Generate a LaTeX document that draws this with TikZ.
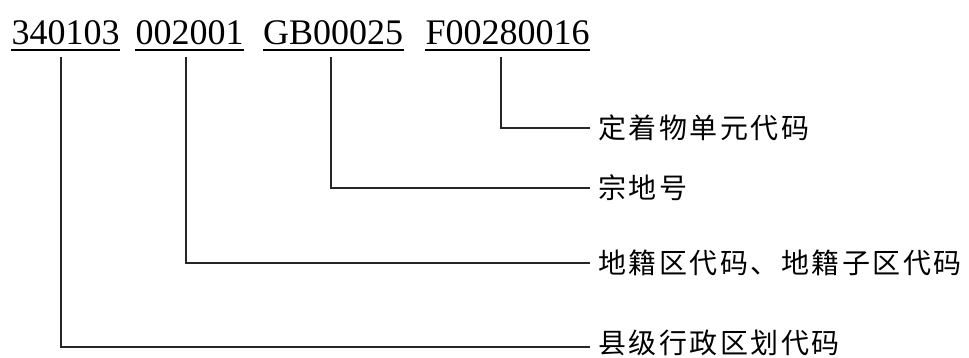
\documentclass[tikz,border=0pt]{standalone}
\usepackage{fontspec}
\setmainfont{Liberation Serif}
\newfontfamily\cjk[LetterSpace=9]{Noto Sans CJK SC}
\begin{document}
\begin{tikzpicture}[x=1pt,y=-1pt,
  code/.style={anchor=base west,inner sep=0pt,font=\fontsize{36}{40}\selectfont},
  lab/.style={anchor=west,inner xsep=8pt,inner ysep=0pt,font=\cjk\fontsize{28}{32}\selectfont},
  conn/.style={line width=1.2pt,black!85}]
\useasboundingbox (0,0) rectangle (969,358);
\node[code] (w1) at (11.5,45) {340103};
\node[code] (w2) at (135.5,45) {002001};
\node[code] (w3) at (263,45) {GB00025};
\node[code] (w4) at (425.5,45) {F00280016};
\foreach \w in {w1,w2,w3,w4}{
  \draw[line width=1.1pt] ([yshift=-5pt,xshift=-0.5pt]\w.base west) -- ([yshift=-5pt,xshift=0.5pt]\w.base east);
}
\node[lab] (l4) at (590,128) {定着物单元代码};
\node[lab] (l3) at (590,188) {宗地号};
\node[lab] (l2) at (590,263) {地籍区代码、地籍子区代码};
\node[lab] (l1) at (590,343) {县级行政区划代码};
\coordinate (e1) at (590,347);
\coordinate (t1) at (61,57);
\coordinate (t2) at (186,57);
\coordinate (t3) at (331,57);
\coordinate (t4) at (501,57);
\draw[conn] (t4) |- (l4.west);
\draw[conn] (t3) |- (l3.west);
\draw[conn] (t2) |- (l2.west);
\draw[conn] (t1) |- (e1);
\end{tikzpicture}
\end{document}
